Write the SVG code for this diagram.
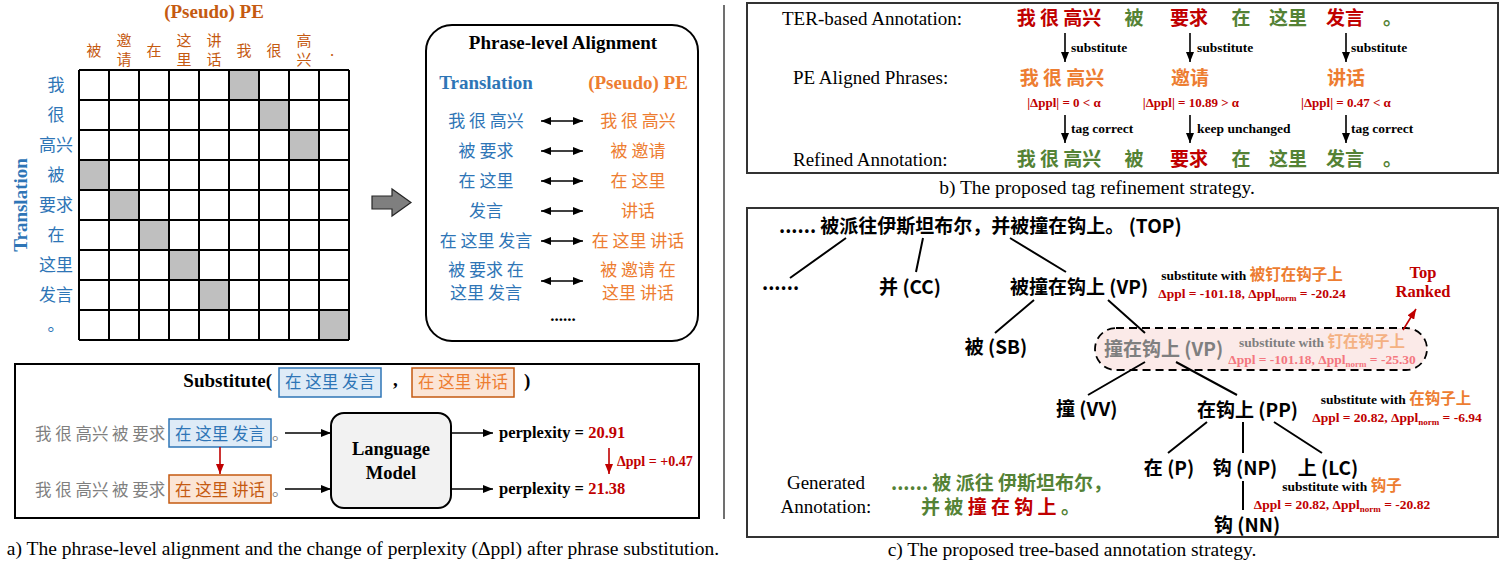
<svg xmlns="http://www.w3.org/2000/svg" width="1504" height="567" viewBox="0 0 1504 567">
<defs>
<style>
text{font-family:"Liberation Serif","Noto Sans CJK SC",serif;fill:#000;}
.c{font-family:"Noto Sans CJK SC",sans-serif;}
.b{font-weight:bold;}
.blue{fill:#2E75B6;}
.org{fill:#ED7D31;}
.dorg{fill:#C55A11;}
.red{fill:#C00000;}
.lred{fill:#F4777F;}
.grn{fill:#548235;}
.gray{fill:#7F7F7F;}
.lorg{fill:#F4B183;}
.mid{text-anchor:middle;}
.ln{stroke:#000;stroke-width:2;fill:none;}
.arr{stroke:#000;stroke-width:1.6;fill:none;marker-end:url(#ah);}
.darr{stroke:#000;stroke-width:1.6;fill:none;marker-end:url(#ah);marker-start:url(#ah);}
.rarr{stroke:#C00000;stroke-width:1.6;fill:none;marker-end:url(#rh);}
.gcell{fill:#BFBFBF;}
.node{font-family:"Noto Sans CJK SC",sans-serif;font-weight:bold;font-size:19px;}
.sub{font-weight:bold;font-size:13.5px;}
.cap{font-size:19.5px;}
</style>
<marker id="ah" viewBox="0 0 10 8" refX="10" refY="4" markerWidth="10" markerHeight="8" markerUnits="userSpaceOnUse" orient="auto-start-reverse"><path d="M0,0L10,4L0,8z" fill="#000"/></marker>
<marker id="rh" viewBox="0 0 10 8" refX="10" refY="4" markerWidth="10" markerHeight="8" markerUnits="userSpaceOnUse" orient="auto-start-reverse"><path d="M0,0L10,4L0,8z" fill="#C00000"/></marker>
</defs>
<rect width="1504" height="567" fill="#fff"/>

<!-- ===== Section a: alignment grid ===== -->
<g id="grid">
<text x="214" y="18" class="b mid dorg" font-size="19">(Pseudo) PE</text>
<g font-size="15" text-anchor="middle">
<text x="94" y="56" class="c dorg">被</text>
<text x="124" y="45.5" class="c dorg">邀</text><text x="124" y="64.5" class="c dorg">请</text>
<text x="154" y="56" class="c dorg">在</text>
<text x="184" y="45.5" class="c dorg">这</text><text x="184" y="64.5" class="c dorg">里</text>
<text x="214" y="45.5" class="c dorg">讲</text><text x="214" y="64.5" class="c dorg">话</text>
<text x="244" y="56" class="c dorg">我</text>
<text x="274" y="56" class="c dorg">很</text>
<text x="304" y="45.5" class="c dorg">高</text><text x="304" y="64.5" class="c dorg">兴</text>
<text x="332" y="56" class="c dorg">.</text>
</g>
<g font-size="17" text-anchor="middle">
<text x="56" y="91" class="c blue">我</text>
<text x="56" y="121" class="c blue">很</text>
<text x="56" y="151" class="c blue">高兴</text>
<text x="56" y="181" class="c blue">被</text>
<text x="56" y="211" class="c blue">要求</text>
<text x="56" y="241" class="c blue">在</text>
<text x="56" y="271" class="c blue">这里</text>
<text x="56" y="301" class="c blue">发言</text>
<text x="56" y="331" class="c blue">。</text>
</g>
<text transform="translate(27,205) rotate(-90)" class="b mid blue" font-size="19">Translation</text>
<rect x="79" y="70" width="270" height="270" fill="#fff"/>
<rect x="229" y="70" width="30" height="30" class="gcell"/>
<rect x="259" y="100" width="30" height="30" class="gcell"/>
<rect x="289" y="130" width="30" height="30" class="gcell"/>
<rect x="79" y="160" width="30" height="30" class="gcell"/>
<rect x="109" y="190" width="30" height="30" class="gcell"/>
<rect x="139" y="220" width="30" height="30" class="gcell"/>
<rect x="169" y="250" width="30" height="30" class="gcell"/>
<rect x="199" y="280" width="30" height="30" class="gcell"/>
<rect x="319" y="310" width="30" height="30" class="gcell"/>
<path class="ln" d="M79 70V340M109 70V340M139 70V340M169 70V340M199 70V340M229 70V340M259 70V340M289 70V340M319 70V340M349 70V340M79 70H349M79 100H349M79 130H349M79 160H349M79 190H349M79 220H349M79 250H349M79 280H349M79 310H349M79 340H349"/>
</g>

<g id="block-arrow">
<polygon points="372,196 392,196 392,189 411,202.5 392,216 392,209 372,209" fill="#7F7F7F" stroke="#262626" stroke-width="1.2"/>
</g>

<g id="align-box">
<rect x="426" y="25" width="272" height="316" rx="26" fill="#fff" stroke="#000" stroke-width="2"/>
<text x="563" y="49" class="b mid" font-size="19">Phrase-level Alignment</text>
<text x="486" y="89" class="b mid blue" font-size="19">Translation</text>
<text x="638" y="89" class="b mid org" font-size="19">(Pseudo) PE</text>
<g font-size="17" text-anchor="middle">
<text x="486" y="127" class="c blue">我 很 高兴</text>
<text x="486" y="157" class="c blue">被 要求</text>
<text x="486" y="187" class="c blue">在 这里</text>
<text x="486" y="217" class="c blue">发言</text>
<text x="486" y="247" class="c blue">在 这里 发言</text>
<text x="486" y="276" class="c blue">被 要求 在</text>
<text x="486" y="299" class="c blue">这里 发言</text>
<text x="638" y="127" class="c org">我 很 高兴</text>
<text x="638" y="157" class="c org">被 邀请</text>
<text x="638" y="187" class="c org">在 这里</text>
<text x="638" y="217" class="c org">讲话</text>
<text x="638" y="247" class="c org">在 这里 讲话</text>
<text x="638" y="276" class="c org">被 邀请 在</text>
<text x="638" y="299" class="c org">这里 讲话</text>
</g>
<text x="563" y="321" class="b mid" font-size="17">......</text>
</g>

<g id="substitute-box">
<rect x="15" y="364" width="684" height="154" fill="#fff" stroke="#000" stroke-width="2"/>
<text x="272" y="387" class="b" font-size="19" text-anchor="end">Substitute(</text>
<rect x="279" y="368" width="102" height="29" fill="#DEEBF7" stroke="#2E75B6" stroke-width="1.5"/>
<text x="330" y="388" class="c mid blue" font-size="16.5">在 这里 发言</text>
<text x="393" y="386" class="b" font-size="19">,</text>
<rect x="412" y="368" width="102" height="29" fill="#FBE5D6" stroke="#C55A11" stroke-width="1.5"/>
<text x="463" y="388" class="c mid org" font-size="16.5">在 这里 讲话</text>
<text x="524" y="387" class="b" font-size="19">)</text>
</g>

<g id="sentence-1">
<text x="35" y="440" class="c gray" font-size="16.5">我 很 高兴 被 要求</text>
<rect x="169" y="419" width="102" height="28" fill="#DEEBF7" stroke="#2E75B6" stroke-width="1.5"/>
<text x="220" y="440" class="c mid blue" font-size="16.5">在 这里 发言</text>
<text x="272" y="440" class="c gray" font-size="16.5">。</text>
</g>
<g id="sentence-2">
<text x="35" y="496" class="c gray" font-size="16.5">我 很 高兴 被 要求</text>
<rect x="169" y="475" width="102" height="28" fill="#FBE5D6" stroke="#C55A11" stroke-width="1.5"/>
<text x="220" y="496" class="c mid dorg" font-size="16.5">在 这里 讲话</text>
<text x="272" y="496" class="c gray" font-size="16.5">。</text>
</g>

<g id="language-model">
<rect x="331" y="413" width="120" height="95" rx="13" fill="#F2F2F2" stroke="#000" stroke-width="2"/>
<text x="391" y="455" class="b mid" font-size="18.5">Language</text>
<text x="391" y="479" class="b mid" font-size="18.5">Model</text>
</g>

<g id="perplexity">
<text x="499" y="438" class="b" font-size="16.5">perplexity = <tspan class="red">20.91</tspan></text>
<text x="499" y="494" class="b" font-size="16.5">perplexity = <tspan class="red">21.38</tspan></text>
<text x="617" y="466" class="b red" font-size="14">Δppl = +0.47</text>
</g>

<text x="363" y="555" class="cap mid">a) The phrase-level alignment and the change of perplexity (Δppl) after phrase substitution.</text>

<line x1="724" y1="5" x2="724" y2="519" stroke="#404040" stroke-width="1.5"/>

<!-- ===== Section b ===== -->
<g id="refine-box">
<rect x="747" y="3" width="751" height="170" fill="#fff" stroke="#333" stroke-width="2"/>
<text x="782" y="25" font-size="19">TER-based Annotation:</text>
<text x="793" y="84" font-size="19">PE Aligned Phrases:</text>
<text x="793" y="166" font-size="19">Refined Annotation:</text>
</g>
<g id="ter-row" font-size="19">
<text x="1059" y="25" class="c b mid red">我 很 高兴</text>
<text x="1134" y="25" class="c b mid grn">被</text>
<text x="1189" y="25" class="c b mid red">要求</text>
<text x="1241" y="25" class="c b mid grn">在</text>
<text x="1288" y="25" class="c b mid grn">这里</text>
<text x="1345" y="25" class="c b mid red">发言</text>
<text x="1383" y="25" class="c b grn">。</text>
</g>
<g id="pe-row" font-size="19">
<text x="1062" y="85" class="c b mid org">我 很 高兴</text>
<text x="1190" y="85" class="c b mid org">邀请</text>
<text x="1346" y="85" class="c b mid org">讲话</text>
<text x="1064" y="107" class="b mid red" font-size="13">|Δppl| = 0 &lt; α</text>
<text x="1191" y="107" class="b mid red" font-size="13">|Δppl| = 10.89 &gt; α</text>
<text x="1346" y="107" class="b mid red" font-size="13">|Δppl| = 0.47 &lt; α</text>
</g>
<g id="refined-row" font-size="19">
<text x="1059" y="166" class="c b mid grn">我 很 高兴</text>
<text x="1134" y="166" class="c b mid grn">被</text>
<text x="1189" y="166" class="c b mid red">要求</text>
<text x="1241" y="166" class="c b mid grn">在</text>
<text x="1288" y="166" class="c b mid grn">这里</text>
<text x="1345" y="166" class="c b mid grn">发言</text>
<text x="1383" y="166" class="c b grn">。</text>
</g>
<g id="refine-labels">
<text x="1071" y="52" class="sub">substitute</text>
<text x="1197" y="52" class="sub">substitute</text>
<text x="1351" y="52" class="sub">substitute</text>
<text x="1071" y="133" class="sub">tag correct</text>
<text x="1197" y="133" class="sub">keep unchanged</text>
<text x="1351" y="133" class="sub">tag correct</text>
</g>
<text x="1097" y="194" class="cap mid">b) The proposed tag refinement strategy.</text>

<!-- ===== Section c ===== -->
<g id="tree-box">
<rect x="747" y="208" width="751" height="329" fill="#fff" stroke="#333" stroke-width="2"/>
</g>
<g id="highlight">
<rect x="1095" y="328" width="332" height="42" rx="21" fill="#FBEAE8" stroke="#000" stroke-width="1.8" stroke-dasharray="8 5"/>
</g>
<g id="connectors">
<path class="ln" d="M846 238L790 278M923 238L916 272M1010 238L1066 272M1034 300L995 333M1108 300L1145 333M1145 362L1088 395M1176 362L1237 395M1207 422L1168 453M1243 422V453M1274 422L1322 453M1243 481V510"/>
<line x1="1403" y1="330" x2="1416" y2="309" class="rarr"/>
<line x1="1065" y1="33" x2="1065" y2="62" class="arr"/>
<line x1="1190" y1="33" x2="1190" y2="62" class="arr"/>
<line x1="1346" y1="33" x2="1346" y2="62" class="arr"/>
<line x1="1065" y1="115" x2="1065" y2="143" class="arr"/>
<line x1="1190" y1="115" x2="1190" y2="143" class="arr"/>
<line x1="1346" y1="115" x2="1346" y2="143" class="arr"/>
<line x1="541" y1="121" x2="583" y2="121" class="darr"/>
<line x1="541" y1="151" x2="583" y2="151" class="darr"/>
<line x1="541" y1="181" x2="583" y2="181" class="darr"/>
<line x1="541" y1="211" x2="583" y2="211" class="darr"/>
<line x1="541" y1="241" x2="583" y2="241" class="darr"/>
<line x1="541" y1="281" x2="583" y2="281" class="darr"/>
<line x1="285" y1="433" x2="331" y2="433" class="arr"/>
<line x1="285" y1="489" x2="331" y2="489" class="arr"/>
<line x1="451" y1="433" x2="493" y2="433" class="arr"/>
<line x1="451" y1="489" x2="493" y2="489" class="arr"/>
<line x1="220" y1="447" x2="220" y2="474" class="rarr"/>
<line x1="609" y1="448" x2="609" y2="474" class="rarr"/>
</g>
<g id="node-top"><text x="779" y="233" class="node">...... 被派往伊斯坦布尔，并被撞在钩上。 (TOP)</text></g>
<g id="node-dots"><text x="762" y="290" class="node">......</text></g>
<g id="node-cc"><text x="910" y="294" class="node mid">并 (CC)</text></g>
<g id="node-vp1"><text x="1010" y="294" class="node">被撞在钩上 (VP)</text></g>
<g id="node-sb"><text x="996" y="354" class="node mid">被 (SB)</text></g>
<g id="node-vp2"><text x="1104" y="356" class="node gray">撞在钩上 (VP)</text></g>
<g id="node-vv"><text x="1056" y="416" class="node">撞 (VV)</text></g>
<g id="node-pp"><text x="1197" y="417" class="node">在钩上 (PP)</text></g>
<g id="node-p"><text x="1169" y="475" class="node mid">在 (P)</text></g>
<g id="node-np"><text x="1245" y="475" class="node mid">钩 (NP)</text></g>
<g id="node-lc"><text x="1328" y="475" class="node mid">上 (LC)</text></g>
<g id="node-nn"><text x="1247" y="532" class="node mid">钩 (NN)</text></g>

<g id="sub-vp1">
<text x="1252" y="280" class="sub mid">substitute with <tspan class="c org" font-size="15.5">被钉在钩子上</tspan></text>
<text x="1252" y="298" class="sub mid red" font-size="14">Δppl = -101.18, Δppl<tspan font-size="9" dy="3">norm</tspan><tspan dy="-3"> = -20.24</tspan></text>
</g>
<g id="sub-vp2">
<text x="1322" y="347" class="sub mid gray">substitute with <tspan class="c lorg" font-size="15.5">钉在钩子上</tspan></text>
<text x="1322" y="364" class="sub mid lred" font-size="14">Δppl = -101.18, Δppl<tspan font-size="9" dy="3">norm</tspan><tspan dy="-3"> = -25.30</tspan></text>
</g>
<g id="top-ranked">
<text x="1423" y="278" class="b mid red" font-size="16.5">Top</text>
<text x="1423" y="297" class="b mid red" font-size="16.5">Ranked</text>
</g>
<g id="sub-pp">
<text x="1396" y="404" class="sub mid">substitute with <tspan class="c org" font-size="15.5">在钩子上</tspan></text>
<text x="1397" y="422" class="sub mid red" font-size="14">Δppl = 20.82, Δppl<tspan font-size="9" dy="3">norm</tspan><tspan dy="-3"> = -6.94</tspan></text>
</g>
<g id="sub-np">
<text x="1342" y="491" class="sub mid">substitute with <tspan class="c org" font-size="15.5">钩子</tspan></text>
<text x="1342" y="509" class="sub mid red" font-size="14">Δppl = 20.82, Δppl<tspan font-size="9" dy="3">norm</tspan><tspan dy="-3"> = -20.82</tspan></text>
</g>
<g id="generated">
<text x="826" y="489" class="mid" font-size="19">Generated</text>
<text x="826" y="513" class="mid" font-size="19">Annotation:</text>
<text x="891" y="490" class="c b grn" font-size="19">...... 被 派往 伊斯坦布尔，</text>
<text x="921" y="514" class="c b" font-size="19"><tspan class="grn">并 被 </tspan><tspan class="red">撞 在 钩 上 </tspan><tspan class="grn">。</tspan></text>
</g>
<text x="1072" y="556" class="cap mid">c) The proposed tree-based annotation strategy.</text>
</svg>
